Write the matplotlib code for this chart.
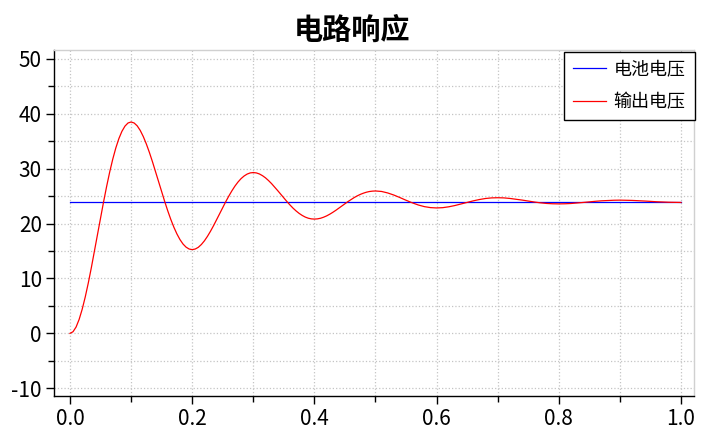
import numpy as np
import matplotlib
matplotlib.use("Agg")
import matplotlib.pyplot as plt
from matplotlib.ticker import MultipleLocator, FormatStrFormatter

plt.rcParams['font.family'] = ['Noto Sans CJK SC', 'DejaVu Sans']
plt.rcParams['axes.unicode_minus'] = False

title = "电路响应"
series_names = ["电池电压", "输出电压"]

battery_voltage = 24.0
battery_t = [0.0, 1.0]

# output voltage sampled every 0.005 s for 0..0.5 s
output_first = [
    0.00, 0.30, 1.16, 2.55, 4.40, 6.64, 9.19, 11.99, 14.95, 17.98,
    21.01, 23.96, 26.77, 29.38, 31.72, 33.76, 35.46, 36.79, 37.74, 38.31,
    38.49, 38.31, 37.79, 36.95, 35.83, 34.48, 32.94, 31.25, 29.47, 27.64,
    25.81, 24.02, 22.32, 20.75, 19.34, 18.11, 17.08, 16.27, 15.70, 15.36,
    15.25, 15.36, 15.67, 16.18, 16.85, 17.67, 18.60, 19.62, 20.70, 21.80,
    22.91, 23.99, 25.01, 25.96, 26.82, 27.56, 28.18, 28.66, 29.01, 29.22,
    29.28, 29.22, 29.03, 28.72, 28.32, 27.82, 27.26, 26.64, 25.99, 25.33,
    24.66, 24.01, 23.39, 22.81, 22.30, 21.85, 21.48, 21.18, 20.97, 20.85,
    20.81, 20.85, 20.96, 21.15, 21.39, 21.69, 22.03, 22.40, 22.80, 23.20,
    23.60, 24.00, 24.37, 24.72, 25.03, 25.30, 25.52, 25.70, 25.83, 25.90,
    25.93,
]
# output voltage sampled every 0.01 s for 0.51..1.0 s
output_second = [
    25.84, 25.57, 25.19, 24.73, 24.24, 23.78, 23.38, 23.08, 22.90,
    22.84, 22.89, 23.05, 23.28, 23.56, 23.86, 24.13, 24.37, 24.56, 24.67,
    24.70, 24.67, 24.57, 24.43, 24.27, 24.09, 23.92, 23.77, 23.66, 23.60,
    23.58, 23.60, 23.65, 23.74, 23.84, 23.95, 24.05, 24.14, 24.20, 24.24,
    24.26, 24.24, 24.21, 24.16, 24.10, 24.03, 23.97, 23.92, 23.88, 23.85,
    23.84,
]

t_first = np.linspace(0.0, 0.5, len(output_first))
t_second = np.linspace(0.51, 1.0, len(output_second))
t_out = np.concatenate([t_first, t_second])
v_out = np.array(output_first + output_second)

fig = plt.figure(figsize=(7.04, 4.34), dpi=100)
ax = fig.add_axes([0.0771, 0.0876, 0.9858 - 0.0771, 0.8848 - 0.0876])

ax.plot(battery_t, [battery_voltage] * len(battery_t), color='#0000ff', lw=0.9,
        label=series_names[0])
ax.plot(t_out, v_out, color='#ff0000', lw=0.9, label=series_names[1])

ax.set_xlim(-0.0257, 1.0213)
ax.set_ylim(-11.4, 51.6)
ax.xaxis.set_major_locator(MultipleLocator(0.2))
ax.xaxis.set_minor_locator(MultipleLocator(0.1))
ax.yaxis.set_major_locator(MultipleLocator(10))
ax.yaxis.set_minor_locator(MultipleLocator(5))
ax.xaxis.set_major_formatter(FormatStrFormatter('%.1f'))

ax.grid(True, which='both', linestyle=':', color='#c4c4c4', lw=0.9)
ax.set_axisbelow(True)

for s in ['top', 'right']:
    ax.spines[s].set_color('#d0d0d0')
    ax.spines[s].set_linewidth(1.0)
for s in ['left', 'bottom']:
    ax.spines[s].set_color('black')
    ax.spines[s].set_linewidth(1.0)

ax.tick_params(axis='both', which='major', length=6, width=1.0, labelsize=15, pad=3,
               colors='black')
ax.tick_params(axis='both', which='minor', length=4.5, width=1.0)

fig.text(0.5, 1 - 29.5 / 434, title, fontsize=21, fontweight='bold',
         ha='center', va='center')

leg = ax.legend(loc='upper right', bbox_to_anchor=(1.001, 0.995), borderaxespad=0,
                fontsize=13, frameon=True, fancybox=False, edgecolor='black',
                framealpha=1, borderpad=0.5, labelspacing=0.8, handlelength=1.85,
                handletextpad=0.4)
leg.get_frame().set_linewidth(1.0)

fig.savefig("out.png", dpi=100)
